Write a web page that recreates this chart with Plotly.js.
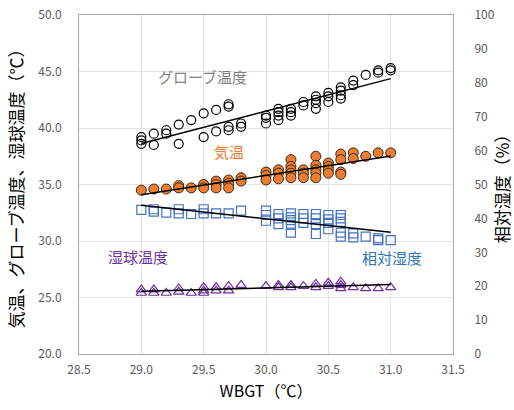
<!DOCTYPE html>
<html>
<head>
<meta charset="utf-8">
<script src="https://cdn.plot.ly/plotly-3.0.1.min.js"></script>
<style>html,body{margin:0;padding:0;background:#fff;}#chart{width:514px;height:410px;}</style>
</head>
<body>
<div id="chart"></div>
<script>
// WBGT levels (x) and the readings observed at each level
const wbgtLevels = [29.0, 29.1, 29.2, 29.3, 29.4, 29.5, 29.6, 29.7, 29.8, 30.0, 30.1, 30.2, 30.3, 30.4, 30.5, 30.6, 30.7, 30.8, 30.9, 31.0];

const globeTemp = [
  [39.2, 38.9, 38.6], [39.5, 38.5], [39.8, 39.5], [40.3, 38.6], [40.7],
  [41.3, 39.2], [41.6, 39.7], [42.1, 41.9, 40.1, 39.8], [40.4, 40.1],
  [41.1, 40.9, 40.4], [41.7, 41.4, 41.1, 40.7], [41.7, 41.4, 41.1], [42.3, 42.0],
  [42.8, 42.5, 42.2, 41.7], [43.1, 42.8, 42.3], [43.6, 43.3, 42.9, 42.6],
  [44.2, 43.8], [44.7], [45.1, 44.9], [45.3, 45.1]
];

const airTemp = [
  [34.5], [34.6], [34.6], [34.9, 34.7], [34.7], [35.0, 34.7], [35.3, 35.0, 34.7],
  [35.4, 35.1, 34.7], [35.6, 35.3], [36.1, 35.8, 35.4], [36.3, 36.0, 35.5],
  [37.2, 36.6, 36.3, 36.0, 35.6], [36.3, 36.0, 35.6], [37.5, 36.7, 36.3, 36.0, 35.6],
  [36.9, 36.6, 36.3, 36.0], [37.7, 37.2, 36.1, 35.9], [37.8, 37.3], [37.5], [37.8], [37.8]
];

const relHumidity = [
  [42.5], [42.7, 42.0], [41.7], [42.7, 41.5], [41.3], [42.7, 41.5], [41.5], [41.5], [42.3],
  [42.3, 41.0, 39.3], [41.3, 40.0, 38.3], [41.5, 40.3, 39.5, 38.1, 35.8], [41.3, 40.0, 38.7],
  [41.3, 40.0, 38.3, 35.4], [41.0, 39.7, 38.7, 36.8], [41.0, 40.0, 39.0, 35.8, 34.6],
  [35.6, 34.4], [34.6], [34.1, 33.6], [33.6]
];

const wetBulbTemp = [
  [25.7, 25.4], [25.7, 25.4], [25.4], [25.8, 25.5], [25.4], [25.9, 25.6, 25.4], [25.9, 25.6],
  [26.0, 25.6], [26.1], [26.0], [26.1, 25.9], [26.1, 25.9], [26.0], [26.2, 25.9], [26.3, 26.0],
  [26.4, 26.1, 25.8], [25.9], [25.8], [25.8], [25.9]
];

const xTicks = [28.5, 29.0, 29.5, 30.0, 30.5, 31.0, 31.5];
const labels = ['グローブ温度', '気温', '湿球温度', '相対湿度'];

function flatten(groups) {
  const xs = [], ys = [];
  groups.forEach((g, i) => g.forEach(v => { xs.push(wbgtLevels[i]); ys.push(v); }));
  return {x: xs, y: ys};
}
function fitLine(d) {
  const n = d.x.length;
  let sx = 0, sy = 0, sxx = 0, sxy = 0;
  for (let i = 0; i < n; i++) { sx += d.x[i]; sy += d.y[i]; sxx += d.x[i]*d.x[i]; sxy += d.x[i]*d.y[i]; }
  const b = (n*sxy - sx*sy) / (n*sxx - sx*sx);
  const a = (sy - b*sx) / n;
  const x0 = Math.min(...d.x), x1 = Math.max(...d.x);
  return {x: [x0, x1], y: [a + b*x0, a + b*x1]};
}

const globe = flatten(globeTemp), air = flatten(airTemp), rh = flatten(relHumidity), wb = flatten(wetBulbTemp);

const lineStyle = {color: '#000', width: 1.5};
const traces = [
  {x: globe.x, y: globe.y, mode: 'markers', type: 'scatter', marker: {symbol: 'circle-open', size: 9, color: '#000', line: {width: 1.2}}},
  {x: air.x, y: air.y, mode: 'markers', type: 'scatter', marker: {symbol: 'circle', size: 10, color: '#ed7d31', line: {color: '#3a2a1a', width: 1}}},
  {x: rh.x, y: rh.y, yaxis: 'y2', mode: 'markers', type: 'scatter', marker: {symbol: 'square-open', size: 9, color: '#4472c4', line: {width: 1.2}}},
  {x: wb.x, y: wb.y, mode: 'markers', type: 'scatter', marker: {symbol: 'triangle-up-open', size: 9, color: '#7030a0', line: {width: 1.2}}}
];
const fg = fitLine(globe), fa = fitLine(air), fr = fitLine(rh), fw = fitLine(wb);
traces.push({x: fg.x, y: fg.y, mode: 'lines', line: lineStyle});
traces.push({x: fa.x, y: fa.y, mode: 'lines', line: lineStyle});
traces.push({x: fr.x, y: fr.y, yaxis: 'y2', mode: 'lines', line: lineStyle});
traces.push({x: fw.x, y: fw.y, mode: 'lines', line: lineStyle});

const font = 'Noto Sans CJK JP, Noto Sans, sans-serif';
const tickFont = {family: font, size: 12, color: '#595959'};
const layout = {
  width: 514, height: 410,
  margin: {l: 79, r: 61, t: 15, b: 56},
  paper_bgcolor: '#fff', plot_bgcolor: '#fff',
  showlegend: false,
  font: {family: font},
  xaxis: {
    range: [28.5, 31.5], tickvals: xTicks, ticktext: xTicks.map(v => v.toFixed(1)),
    showgrid: true, gridcolor: '#e3e3e3', gridwidth: 1,
    showline: true, linecolor: '#a6a6a6', linewidth: 1, mirror: true,
    zeroline: false, ticks: '', tickfont: tickFont, ticklabelstandoff: 5,
    title: {text: 'WBGT（℃）', font: {family: font, size: 16, color: '#000'}, standoff: 9}
  },
  yaxis: {
    range: [20, 50], dtick: 5, tickformat: '.1f',
    showgrid: true, gridcolor: '#e3e3e3', gridwidth: 1,
    showline: true, linecolor: '#a6a6a6', linewidth: 1,
    zeroline: false, ticks: '', tickfont: tickFont, ticklabelstandoff: 14,
    title: {text: '気温、グローブ温度、湿球温度（℃）', font: {family: font, size: 17, color: '#000'}, standoff: 10}
  },
  yaxis2: {
    range: [0, 100], dtick: 10, overlaying: 'y', side: 'right',
    showgrid: false, showline: true, linecolor: '#a6a6a6', linewidth: 1,
    zeroline: false, ticks: '', tickfont: tickFont, ticklabelstandoff: 18,
    title: {text: '相対湿度（%）', font: {family: font, size: 17, color: '#000'}, standoff: 6}
  },
  annotations: [
    {x: 29.49, y: 44.6, xref: 'x', yref: 'y', text: labels[0], showarrow: false, font: {family: font, size: 15, color: '#7f7f7f'}},
    {x: 29.7, y: 37.9, xref: 'x', yref: 'y', text: labels[1], showarrow: false, font: {family: font, size: 15, color: '#ed7d31'}},
    {x: 28.97, y: 28.6, xref: 'x', yref: 'y', text: labels[2], showarrow: false, font: {family: font, size: 15, color: '#7030a0'}},
    {x: 31.01, y: 28.5, xref: 'x', yref: 'y', text: labels[3], showarrow: false, font: {family: font, size: 15, color: '#2e75b6'}}
  ]
};
Plotly.newPlot('chart', traces, layout, {displayModeBar: false, staticPlot: true});
</script>
</body>
</html>
